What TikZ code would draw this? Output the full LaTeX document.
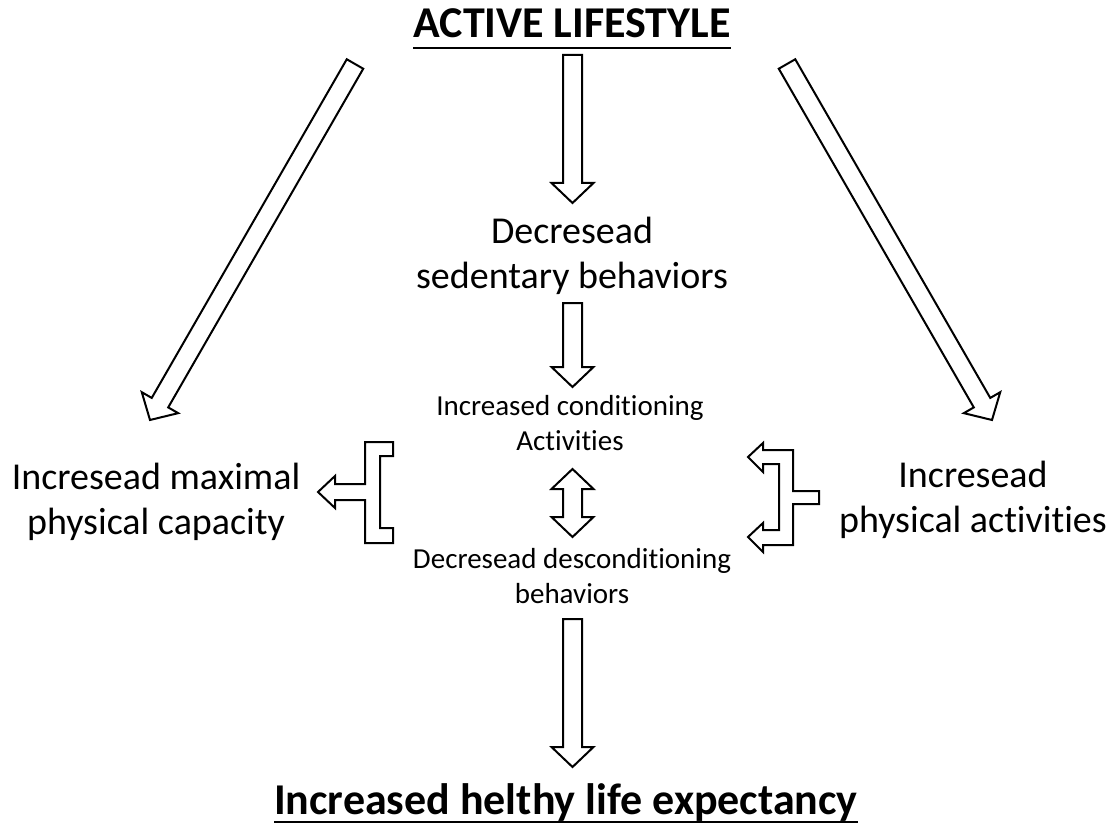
\documentclass[tikz,border=0pt]{standalone}
\usepackage{fontspec}
\setmainfont{Carlito}[Ligatures=NoCommon]
\usetikzlibrary{calc}

\def \shaftw {9.5pt}
\def \headw {21pt}
\def \headlen {20pt}

\tikzset{biglabel/.style={align=center, inner sep=0pt, font=\fontsize{38}{45}\selectfont}}
\tikzset{smalllabel/.style={align=center, inner sep=0pt, font=\fontsize{29}{35}\selectfont}}
\tikzset{headline/.style={inner sep=0pt, font=\bfseries\fontsize{44}{53}\selectfont}}
\tikzset{outline/.style={draw, line width=2pt, fill=white, line join=miter}}
\tikzset{blockarrow/.style={outline, to path={
    ($(\tikztotarget)!\headlen!(\tikztostart)$) coordinate (ba)
    ($(\tikztostart)!\shaftw!90:(\tikztotarget)$) -- ($(ba)!\shaftw!90:(\tikztotarget)$)
    -- ($(ba)!\headw!90:(\tikztotarget)$) -- (\tikztotarget)
    -- ($(ba)!\headw!-90:(\tikztotarget)$) -- ($(ba)!\shaftw!-90:(\tikztotarget)$)
    -- ($(\tikztostart)!\shaftw!-90:(\tikztotarget)$) -- cycle}}}
\tikzset{dblockarrow/.style={outline, to path={
    ($(\tikztotarget)!\headlen!(\tikztostart)$) coordinate (ba)
    ($(\tikztostart)!\headlen!(\tikztotarget)$) coordinate (bb)
    (\tikztostart) -- ($(bb)!\headw!90:(\tikztotarget)$) -- ($(bb)!\shaftw!90:(\tikztotarget)$)
    -- ($(ba)!\shaftw!90:(\tikztotarget)$) -- ($(ba)!\headw!90:(\tikztotarget)$) -- (\tikztotarget)
    -- ($(ba)!\headw!-90:(\tikztotarget)$) -- ($(ba)!\shaftw!-90:(\tikztotarget)$)
    -- ($(bb)!\shaftw!-90:(\tikztotarget)$) -- ($(bb)!\headw!-90:(\tikztotarget)$) -- cycle}}}

\begin{document}
\begin{tikzpicture}[x=1pt, y=-1pt]

    \useasboundingbox (0,0) rectangle (1113,826);

    % texts
    \node[headline, anchor=base] (life) at (572,38) {ACTIVE LIFESTYLE};
    \node[biglabel] (sed) at (572,256) {Decresead\\sedentary behaviors};
    \node[smalllabel] (cond) at (570,423) {Increased conditioning\\Activities};
    \node[smalllabel] (decond) at (572,576) {Decresead desconditioning\\behaviors};
    \node[biglabel] (cap) at (156,502) {Incresead maximal\\physical capacity};
    \node[biglabel] (phys) at (973,500) {Incresead\\physical activities};
    \node[headline, anchor=base] (expect) at (566,814) {Increased helthy life expectancy};

    \draw[line width=2.6pt] ([yshift=-10pt]life.base west) -- ([yshift=-10pt]life.base east);
    \draw[line width=2.6pt] ([yshift=-8pt]expect.base west) -- ([yshift=-8pt]expect.base east);

    % arrow ends
    \coordinate (a1s) at (572.5,55);
    \coordinate (a1e) at (572.5,203);
    \coordinate (a2s) at (572.5,303);
    \coordinate (a2e) at (572.5,387);
    \coordinate (a3s) at (572.5,619);
    \coordinate (a3e) at (572.5,767);
    \coordinate (lts) at (355,64);
    \coordinate (lte) at (150,420);
    \coordinate (rts) at (787,64);
    \coordinate (rte) at (992,420);
    \coordinate (mdt) at (572.5,469);
    \coordinate (mdb) at (572.5,537);

    \draw[blockarrow] (a1s) to (a1e);
    \draw[blockarrow] (a2s) to (a2e);
    \draw[blockarrow] (a3s) to (a3e);
    \draw[blockarrow] (lts) to (lte);
    \draw[blockarrow] (rts) to (rte);
    \draw[dblockarrow] (mdt) to (mdb);

    % bracket arrows
    \draw[outline] (365,442) -- (393,442) -- (393,456) -- (380,456) -- (380,528) -- (393,528)
        -- (393,543) -- (365,543) -- (365,500) -- (335,500) -- (335,508) -- (318,492)
        -- (335,476) -- (335,484) -- (365,484) -- cycle;
    \draw[outline] (748,457) -- (763,443) -- (763,450) -- (793,450) -- (793,491) -- (819,491)
        -- (819,504) -- (793,504) -- (793,545) -- (763,545) -- (763,552) -- (748,537)
        -- (763,523) -- (763,530) -- (779,530) -- (779,464) -- (763,464) -- (763,472) -- cycle;

\end{tikzpicture}
\end{document}
